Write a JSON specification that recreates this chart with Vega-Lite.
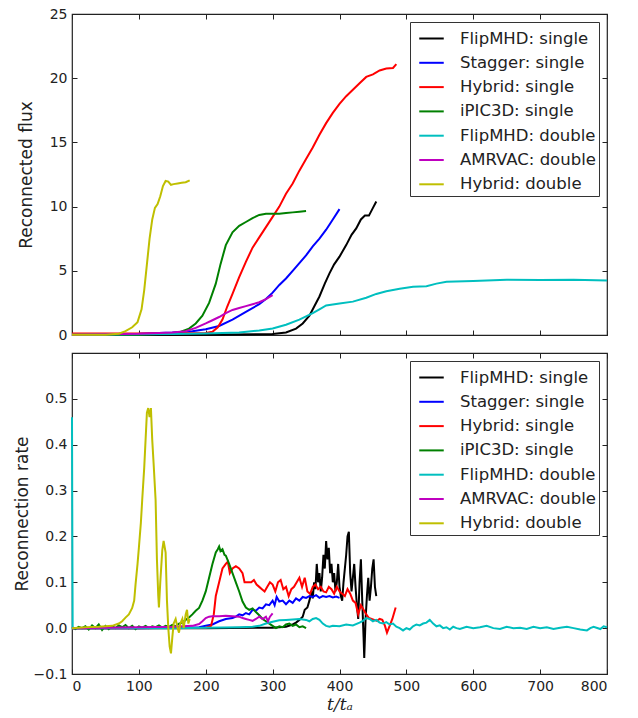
{
  "$schema": "https://vega.github.io/schema/vega-lite/v6.json",
  "background": "white",
  "padding": {"left": 12, "top": 6, "right": 30, "bottom": 0},
  "spacing": 8,
  "config": {
    "view": {"stroke": "#222", "strokeWidth": 1.2},
    "font": "DejaVu Sans",
    "axis": {"grid": false, "domain": false, "labelFont": "DejaVu Sans", "labelFontSize": 14, "labelColor": "#222", "titleFont": "DejaVu Sans", "titleFontSize": 17, "titleFontWeight": "normal", "titleColor": "#222", "tickColor": "#222", "tickSize": -5, "labelPadding": 10},
    "legend": {"orient": "top-right", "offset": 8, "padding": 3, "strokeColor": "#333", "fillColor": "#fff", "labelFont": "DejaVu Sans", "labelFontSize": 16.5, "labelColor": "#222", "symbolType": "stroke", "symbolStrokeWidth": 2, "symbolSize": 600, "symbolOffset": 5, "rowPadding": 2.3, "labelOffset": 15, "cornerRadius": 0}
  },
  "resolve": {"legend": {"color": "independent"}, "scale": {"color": "independent"}},
  "datasets": {
    "flux": [
      {"s":"FlipMHD: single","t":0,"v":0},{"s":"FlipMHD: single","t":100,"v":0},{"s":"FlipMHD: single","t":200,"v":0.02},{"s":"FlipMHD: single","t":300,"v":0.08},{"s":"FlipMHD: single","t":320,"v":0.2},{"s":"FlipMHD: single","t":335,"v":0.5},{"s":"FlipMHD: single","t":345,"v":0.9},{"s":"FlipMHD: single","t":355,"v":1.5},{"s":"FlipMHD: single","t":362,"v":2.2},{"s":"FlipMHD: single","t":370,"v":3},{"s":"FlipMHD: single","t":378,"v":4},{"s":"FlipMHD: single","t":385,"v":4.8},{"s":"FlipMHD: single","t":392,"v":5.5},{"s":"FlipMHD: single","t":400,"v":6.1},{"s":"FlipMHD: single","t":410,"v":7},{"s":"FlipMHD: single","t":418,"v":7.8},{"s":"FlipMHD: single","t":425,"v":8.3},{"s":"FlipMHD: single","t":432,"v":9},{"s":"FlipMHD: single","t":438,"v":9.3},{"s":"FlipMHD: single","t":444,"v":9.3},{"s":"FlipMHD: single","t":450,"v":9.9},{"s":"FlipMHD: single","t":455,"v":10.4},
      {"s":"Stagger: single","t":0,"v":0.05},{"s":"Stagger: single","t":100,"v":0.1},{"s":"Stagger: single","t":150,"v":0.2},{"s":"Stagger: single","t":180,"v":0.3},{"s":"Stagger: single","t":200,"v":0.45},{"s":"Stagger: single","t":220,"v":0.7},{"s":"Stagger: single","t":240,"v":1.2},{"s":"Stagger: single","t":260,"v":1.8},{"s":"Stagger: single","t":280,"v":2.4},{"s":"Stagger: single","t":290,"v":2.8},{"s":"Stagger: single","t":300,"v":3.3},{"s":"Stagger: single","t":310,"v":3.9},{"s":"Stagger: single","t":320,"v":4.4},{"s":"Stagger: single","t":330,"v":5},{"s":"Stagger: single","t":340,"v":5.6},{"s":"Stagger: single","t":350,"v":6.2},{"s":"Stagger: single","t":360,"v":6.9},{"s":"Stagger: single","t":370,"v":7.5},{"s":"Stagger: single","t":380,"v":8.2},{"s":"Stagger: single","t":390,"v":9},{"s":"Stagger: single","t":400,"v":9.8},
      {"s":"Hybrid: single","t":0,"v":0.12},{"s":"Hybrid: single","t":100,"v":0.12},{"s":"Hybrid: single","t":200,"v":0.15},{"s":"Hybrid: single","t":210,"v":0.25},{"s":"Hybrid: single","t":218,"v":0.6},{"s":"Hybrid: single","t":225,"v":1.2},{"s":"Hybrid: single","t":232,"v":2.2},{"s":"Hybrid: single","t":240,"v":3.2},{"s":"Hybrid: single","t":250,"v":4.5},{"s":"Hybrid: single","t":260,"v":5.7},{"s":"Hybrid: single","t":270,"v":6.8},{"s":"Hybrid: single","t":280,"v":7.6},{"s":"Hybrid: single","t":290,"v":8.4},{"s":"Hybrid: single","t":300,"v":9.2},{"s":"Hybrid: single","t":310,"v":10},{"s":"Hybrid: single","t":320,"v":11},{"s":"Hybrid: single","t":330,"v":11.8},{"s":"Hybrid: single","t":340,"v":12.8},{"s":"Hybrid: single","t":350,"v":13.7},{"s":"Hybrid: single","t":360,"v":14.6},{"s":"Hybrid: single","t":370,"v":15.6},{"s":"Hybrid: single","t":380,"v":16.5},{"s":"Hybrid: single","t":390,"v":17.3},{"s":"Hybrid: single","t":400,"v":18},{"s":"Hybrid: single","t":410,"v":18.6},{"s":"Hybrid: single","t":420,"v":19.1},{"s":"Hybrid: single","t":430,"v":19.6},{"s":"Hybrid: single","t":440,"v":20.1},{"s":"Hybrid: single","t":450,"v":20.3},{"s":"Hybrid: single","t":460,"v":20.6},{"s":"Hybrid: single","t":470,"v":20.75},{"s":"Hybrid: single","t":480,"v":20.8},{"s":"Hybrid: single","t":485,"v":21.1},
      {"s":"iPIC3D: single","t":0,"v":0},{"s":"iPIC3D: single","t":100,"v":0.02},{"s":"iPIC3D: single","t":140,"v":0.1},{"s":"iPIC3D: single","t":160,"v":0.2},{"s":"iPIC3D: single","t":175,"v":0.5},{"s":"iPIC3D: single","t":185,"v":0.9},{"s":"iPIC3D: single","t":195,"v":1.5},{"s":"iPIC3D: single","t":205,"v":2.5},{"s":"iPIC3D: single","t":215,"v":4},{"s":"iPIC3D: single","t":222,"v":5.5},{"s":"iPIC3D: single","t":230,"v":7},{"s":"iPIC3D: single","t":240,"v":8},{"s":"iPIC3D: single","t":250,"v":8.5},{"s":"iPIC3D: single","t":260,"v":8.8},{"s":"iPIC3D: single","t":270,"v":9.1},{"s":"iPIC3D: single","t":280,"v":9.35},{"s":"iPIC3D: single","t":290,"v":9.45},{"s":"iPIC3D: single","t":300,"v":9.45},{"s":"iPIC3D: single","t":310,"v":9.45},{"s":"iPIC3D: single","t":320,"v":9.5},{"s":"iPIC3D: single","t":330,"v":9.55},{"s":"iPIC3D: single","t":340,"v":9.6},{"s":"iPIC3D: single","t":350,"v":9.65},
      {"s":"FlipMHD: double","t":0,"v":0.02},{"s":"FlipMHD: double","t":100,"v":0.05},{"s":"FlipMHD: double","t":150,"v":0.08},{"s":"FlipMHD: double","t":200,"v":0.12},{"s":"FlipMHD: double","t":250,"v":0.2},{"s":"FlipMHD: double","t":280,"v":0.35},{"s":"FlipMHD: double","t":300,"v":0.5},{"s":"FlipMHD: double","t":320,"v":0.8},{"s":"FlipMHD: double","t":340,"v":1.2},{"s":"FlipMHD: double","t":360,"v":1.7},{"s":"FlipMHD: double","t":370,"v":2.0},{"s":"FlipMHD: double","t":380,"v":2.3},{"s":"FlipMHD: double","t":400,"v":2.45},{"s":"FlipMHD: double","t":420,"v":2.6},{"s":"FlipMHD: double","t":440,"v":2.9},{"s":"FlipMHD: double","t":455,"v":3.2},{"s":"FlipMHD: double","t":470,"v":3.4},{"s":"FlipMHD: double","t":490,"v":3.6},{"s":"FlipMHD: double","t":510,"v":3.75},{"s":"FlipMHD: double","t":530,"v":3.8},{"s":"FlipMHD: double","t":545,"v":4.0},{"s":"FlipMHD: double","t":560,"v":4.15},{"s":"FlipMHD: double","t":600,"v":4.2},{"s":"FlipMHD: double","t":650,"v":4.3},{"s":"FlipMHD: double","t":700,"v":4.28},{"s":"FlipMHD: double","t":750,"v":4.3},{"s":"FlipMHD: double","t":800,"v":4.25},
      {"s":"AMRVAC: double","t":0,"v":0.02},{"s":"AMRVAC: double","t":100,"v":0.1},{"s":"AMRVAC: double","t":150,"v":0.2},{"s":"AMRVAC: double","t":170,"v":0.3},{"s":"AMRVAC: double","t":185,"v":0.55},{"s":"AMRVAC: double","t":200,"v":0.9},{"s":"AMRVAC: double","t":210,"v":1.15},{"s":"AMRVAC: double","t":220,"v":1.4},{"s":"AMRVAC: double","t":230,"v":1.7},{"s":"AMRVAC: double","t":240,"v":1.95},{"s":"AMRVAC: double","t":250,"v":2.1},{"s":"AMRVAC: double","t":260,"v":2.25},{"s":"AMRVAC: double","t":270,"v":2.4},{"s":"AMRVAC: double","t":280,"v":2.55},{"s":"AMRVAC: double","t":290,"v":2.8},{"s":"AMRVAC: double","t":300,"v":3.1},
      {"s":"Hybrid: double","t":0,"v":0.02},{"s":"Hybrid: double","t":50,"v":0.02},{"s":"Hybrid: double","t":70,"v":0.1},{"s":"Hybrid: double","t":80,"v":0.3},{"s":"Hybrid: double","t":90,"v":0.6},{"s":"Hybrid: double","t":98,"v":1.0},{"s":"Hybrid: double","t":104,"v":2},{"s":"Hybrid: double","t":108,"v":3.5},{"s":"Hybrid: double","t":112,"v":5.5},{"s":"Hybrid: double","t":116,"v":7.5},{"s":"Hybrid: double","t":120,"v":9},{"s":"Hybrid: double","t":124,"v":9.9},{"s":"Hybrid: double","t":128,"v":10.2},{"s":"Hybrid: double","t":132,"v":10.8},{"s":"Hybrid: double","t":136,"v":11.6},{"s":"Hybrid: double","t":140,"v":12.0},{"s":"Hybrid: double","t":144,"v":11.95},{"s":"Hybrid: double","t":148,"v":11.7},{"s":"Hybrid: double","t":152,"v":11.75},{"s":"Hybrid: double","t":158,"v":11.8},{"s":"Hybrid: double","t":164,"v":11.85},{"s":"Hybrid: double","t":170,"v":11.9},{"s":"Hybrid: double","t":176,"v":12.05}
    ],
    "rate": [
      {"s":"FlipMHD: single","t":0,"v":0},{"s":"FlipMHD: single","t":100,"v":0},{"s":"FlipMHD: single","t":200,"v":0},{"s":"FlipMHD: single","t":300,"v":0.001},{"s":"FlipMHD: single","t":320,"v":0.003},{"s":"FlipMHD: single","t":330,"v":0.008},{"s":"FlipMHD: single","t":335,"v":0.012},{"s":"FlipMHD: single","t":340,"v":0.018},{"s":"FlipMHD: single","t":345,"v":0.025},{"s":"FlipMHD: single","t":348,"v":0.04},{"s":"FlipMHD: single","t":352,"v":0.045},{"s":"FlipMHD: single","t":355,"v":0.06},{"s":"FlipMHD: single","t":358,"v":0.08},{"s":"FlipMHD: single","t":360,"v":0.065},{"s":"FlipMHD: single","t":362,"v":0.1},{"s":"FlipMHD: single","t":364,"v":0.085},{"s":"FlipMHD: single","t":366,"v":0.14},{"s":"FlipMHD: single","t":368,"v":0.1},{"s":"FlipMHD: single","t":370,"v":0.12},{"s":"FlipMHD: single","t":372,"v":0.08},{"s":"FlipMHD: single","t":374,"v":0.11},{"s":"FlipMHD: single","t":376,"v":0.16},{"s":"FlipMHD: single","t":378,"v":0.13},{"s":"FlipMHD: single","t":380,"v":0.19},{"s":"FlipMHD: single","t":382,"v":0.15},{"s":"FlipMHD: single","t":384,"v":0.175},{"s":"FlipMHD: single","t":386,"v":0.12},{"s":"FlipMHD: single","t":388,"v":0.14},{"s":"FlipMHD: single","t":390,"v":0.1},{"s":"FlipMHD: single","t":392,"v":0.12},{"s":"FlipMHD: single","t":394,"v":0.08},{"s":"FlipMHD: single","t":396,"v":0.1},{"s":"FlipMHD: single","t":398,"v":0.14},{"s":"FlipMHD: single","t":400,"v":0.09},{"s":"FlipMHD: single","t":402,"v":0.07},{"s":"FlipMHD: single","t":404,"v":0.06},{"s":"FlipMHD: single","t":406,"v":0.1},{"s":"FlipMHD: single","t":408,"v":0.13},{"s":"FlipMHD: single","t":410,"v":0.16},{"s":"FlipMHD: single","t":412,"v":0.2},{"s":"FlipMHD: single","t":414,"v":0.21},{"s":"FlipMHD: single","t":416,"v":0.12},{"s":"FlipMHD: single","t":418,"v":0.08},{"s":"FlipMHD: single","t":420,"v":0.11},{"s":"FlipMHD: single","t":422,"v":0.14},{"s":"FlipMHD: single","t":424,"v":0.09},{"s":"FlipMHD: single","t":426,"v":0.05},{"s":"FlipMHD: single","t":428,"v":0.02},{"s":"FlipMHD: single","t":430,"v":0.1},{"s":"FlipMHD: single","t":432,"v":0.15},{"s":"FlipMHD: single","t":434,"v":0.06},{"s":"FlipMHD: single","t":436,"v":-0.02},{"s":"FlipMHD: single","t":437,"v":-0.065},{"s":"FlipMHD: single","t":439,"v":0.02},{"s":"FlipMHD: single","t":441,"v":0.07},{"s":"FlipMHD: single","t":443,"v":0.11},{"s":"FlipMHD: single","t":445,"v":0.06},{"s":"FlipMHD: single","t":447,"v":0.09},{"s":"FlipMHD: single","t":449,"v":0.13},{"s":"FlipMHD: single","t":451,"v":0.15},{"s":"FlipMHD: single","t":453,"v":0.09},{"s":"FlipMHD: single","t":455,"v":0.07},
      {"s":"Stagger: single","t":0,"v":0},{"s":"Stagger: single","t":100,"v":0},{"s":"Stagger: single","t":190,"v":0.002},{"s":"Stagger: single","t":200,"v":0.005},{"s":"Stagger: single","t":210,"v":0.008},{"s":"Stagger: single","t":220,"v":0.015},{"s":"Stagger: single","t":230,"v":0.02},{"s":"Stagger: single","t":240,"v":0.022},{"s":"Stagger: single","t":245,"v":0.025},{"s":"Stagger: single","t":250,"v":0.03},{"s":"Stagger: single","t":255,"v":0.028},{"s":"Stagger: single","t":260,"v":0.033},{"s":"Stagger: single","t":265,"v":0.03},{"s":"Stagger: single","t":270,"v":0.04},{"s":"Stagger: single","t":275,"v":0.038},{"s":"Stagger: single","t":280,"v":0.045},{"s":"Stagger: single","t":285,"v":0.043},{"s":"Stagger: single","t":290,"v":0.052},{"s":"Stagger: single","t":295,"v":0.05},{"s":"Stagger: single","t":300,"v":0.06},{"s":"Stagger: single","t":303,"v":0.05},{"s":"Stagger: single","t":306,"v":0.068},{"s":"Stagger: single","t":310,"v":0.058},{"s":"Stagger: single","t":315,"v":0.06},{"s":"Stagger: single","t":320,"v":0.052},{"s":"Stagger: single","t":325,"v":0.06},{"s":"Stagger: single","t":330,"v":0.055},{"s":"Stagger: single","t":335,"v":0.065},{"s":"Stagger: single","t":340,"v":0.06},{"s":"Stagger: single","t":345,"v":0.068},{"s":"Stagger: single","t":350,"v":0.066},{"s":"Stagger: single","t":355,"v":0.07},{"s":"Stagger: single","t":360,"v":0.068},{"s":"Stagger: single","t":365,"v":0.072},{"s":"Stagger: single","t":370,"v":0.066},{"s":"Stagger: single","t":375,"v":0.07},{"s":"Stagger: single","t":380,"v":0.068},{"s":"Stagger: single","t":385,"v":0.07},{"s":"Stagger: single","t":390,"v":0.067},{"s":"Stagger: single","t":395,"v":0.069},{"s":"Stagger: single","t":400,"v":0.066},
      {"s":"Hybrid: single","t":0,"v":0},{"s":"Hybrid: single","t":100,"v":0},{"s":"Hybrid: single","t":200,"v":0.001},{"s":"Hybrid: single","t":208,"v":0.005},{"s":"Hybrid: single","t":212,"v":0.03},{"s":"Hybrid: single","t":215,"v":0.07},{"s":"Hybrid: single","t":220,"v":0.1},{"s":"Hybrid: single","t":225,"v":0.13},{"s":"Hybrid: single","t":230,"v":0.14},{"s":"Hybrid: single","t":233,"v":0.145},{"s":"Hybrid: single","t":236,"v":0.12},{"s":"Hybrid: single","t":240,"v":0.13},{"s":"Hybrid: single","t":245,"v":0.135},{"s":"Hybrid: single","t":250,"v":0.13},{"s":"Hybrid: single","t":255,"v":0.12},{"s":"Hybrid: single","t":258,"v":0.1},{"s":"Hybrid: single","t":262,"v":0.1},{"s":"Hybrid: single","t":268,"v":0.1},{"s":"Hybrid: single","t":272,"v":0.105},{"s":"Hybrid: single","t":276,"v":0.095},{"s":"Hybrid: single","t":280,"v":0.09},{"s":"Hybrid: single","t":284,"v":0.085},{"s":"Hybrid: single","t":288,"v":0.08},{"s":"Hybrid: single","t":292,"v":0.09},{"s":"Hybrid: single","t":296,"v":0.1},{"s":"Hybrid: single","t":300,"v":0.095},{"s":"Hybrid: single","t":304,"v":0.08},{"s":"Hybrid: single","t":308,"v":0.1},{"s":"Hybrid: single","t":312,"v":0.105},{"s":"Hybrid: single","t":316,"v":0.085},{"s":"Hybrid: single","t":320,"v":0.09},{"s":"Hybrid: single","t":324,"v":0.07},{"s":"Hybrid: single","t":328,"v":0.085},{"s":"Hybrid: single","t":332,"v":0.09},{"s":"Hybrid: single","t":336,"v":0.1},{"s":"Hybrid: single","t":340,"v":0.11},{"s":"Hybrid: single","t":344,"v":0.09},{"s":"Hybrid: single","t":348,"v":0.11},{"s":"Hybrid: single","t":352,"v":0.08},{"s":"Hybrid: single","t":356,"v":0.075},{"s":"Hybrid: single","t":360,"v":0.09},{"s":"Hybrid: single","t":364,"v":0.095},{"s":"Hybrid: single","t":368,"v":0.085},{"s":"Hybrid: single","t":372,"v":0.09},{"s":"Hybrid: single","t":376,"v":0.08},{"s":"Hybrid: single","t":380,"v":0.078},{"s":"Hybrid: single","t":384,"v":0.09},{"s":"Hybrid: single","t":388,"v":0.085},{"s":"Hybrid: single","t":392,"v":0.075},{"s":"Hybrid: single","t":396,"v":0.09},{"s":"Hybrid: single","t":400,"v":0.08},{"s":"Hybrid: single","t":404,"v":0.075},{"s":"Hybrid: single","t":408,"v":0.07},{"s":"Hybrid: single","t":412,"v":0.085},{"s":"Hybrid: single","t":416,"v":0.075},{"s":"Hybrid: single","t":420,"v":0.06},{"s":"Hybrid: single","t":424,"v":0.055},{"s":"Hybrid: single","t":428,"v":0.03},{"s":"Hybrid: single","t":432,"v":0.05},{"s":"Hybrid: single","t":436,"v":0.04},{"s":"Hybrid: single","t":440,"v":0.03},{"s":"Hybrid: single","t":444,"v":0.022},{"s":"Hybrid: single","t":448,"v":0.02},{"s":"Hybrid: single","t":452,"v":0.018},{"s":"Hybrid: single","t":456,"v":0.016},{"s":"Hybrid: single","t":460,"v":0.02},{"s":"Hybrid: single","t":464,"v":0.018},{"s":"Hybrid: single","t":468,"v":0.005},{"s":"Hybrid: single","t":471,"v":-0.01},{"s":"Hybrid: single","t":475,"v":0.005},{"s":"Hybrid: single","t":479,"v":0.02},{"s":"Hybrid: single","t":484,"v":0.045},
      {"s":"iPIC3D: single","t":0,"v":0.002},{"s":"iPIC3D: single","t":5,"v":-0.002},{"s":"iPIC3D: single","t":10,"v":0.003},{"s":"iPIC3D: single","t":15,"v":0},{"s":"iPIC3D: single","t":20,"v":0.004},{"s":"iPIC3D: single","t":25,"v":-0.003},{"s":"iPIC3D: single","t":30,"v":0.006},{"s":"iPIC3D: single","t":35,"v":0},{"s":"iPIC3D: single","t":40,"v":0.008},{"s":"iPIC3D: single","t":45,"v":-0.004},{"s":"iPIC3D: single","t":50,"v":0.005},{"s":"iPIC3D: single","t":55,"v":-0.002},{"s":"iPIC3D: single","t":60,"v":0.004},{"s":"iPIC3D: single","t":65,"v":0},{"s":"iPIC3D: single","t":70,"v":0.006},{"s":"iPIC3D: single","t":75,"v":0.002},{"s":"iPIC3D: single","t":80,"v":0.007},{"s":"iPIC3D: single","t":85,"v":0},{"s":"iPIC3D: single","t":90,"v":0.005},{"s":"iPIC3D: single","t":95,"v":-0.002},{"s":"iPIC3D: single","t":100,"v":0.004},{"s":"iPIC3D: single","t":105,"v":0.001},{"s":"iPIC3D: single","t":110,"v":0.005},{"s":"iPIC3D: single","t":115,"v":0},{"s":"iPIC3D: single","t":120,"v":0.004},{"s":"iPIC3D: single","t":125,"v":0.002},{"s":"iPIC3D: single","t":130,"v":0.006},{"s":"iPIC3D: single","t":135,"v":0.001},{"s":"iPIC3D: single","t":140,"v":0.005},{"s":"iPIC3D: single","t":145,"v":0.003},{"s":"iPIC3D: single","t":150,"v":0.007},{"s":"iPIC3D: single","t":155,"v":0.004},{"s":"iPIC3D: single","t":160,"v":0.01},{"s":"iPIC3D: single","t":165,"v":0.012},{"s":"iPIC3D: single","t":170,"v":0.018},{"s":"iPIC3D: single","t":175,"v":0.023},{"s":"iPIC3D: single","t":180,"v":0.03},{"s":"iPIC3D: single","t":185,"v":0.038},{"s":"iPIC3D: single","t":190,"v":0.044},{"s":"iPIC3D: single","t":195,"v":0.06},{"s":"iPIC3D: single","t":200,"v":0.08},{"s":"iPIC3D: single","t":205,"v":0.11},{"s":"iPIC3D: single","t":210,"v":0.14},{"s":"iPIC3D: single","t":215,"v":0.165},{"s":"iPIC3D: single","t":218,"v":0.172},{"s":"iPIC3D: single","t":220,"v":0.178},{"s":"iPIC3D: single","t":222,"v":0.168},{"s":"iPIC3D: single","t":225,"v":0.172},{"s":"iPIC3D: single","t":228,"v":0.16},{"s":"iPIC3D: single","t":230,"v":0.158},{"s":"iPIC3D: single","t":235,"v":0.14},{"s":"iPIC3D: single","t":240,"v":0.12},{"s":"iPIC3D: single","t":245,"v":0.1},{"s":"iPIC3D: single","t":250,"v":0.08},{"s":"iPIC3D: single","t":255,"v":0.058},{"s":"iPIC3D: single","t":260,"v":0.045},{"s":"iPIC3D: single","t":265,"v":0.04},{"s":"iPIC3D: single","t":270,"v":0.043},{"s":"iPIC3D: single","t":275,"v":0.035},{"s":"iPIC3D: single","t":280,"v":0.028},{"s":"iPIC3D: single","t":285,"v":0.02},{"s":"iPIC3D: single","t":290,"v":0.015},{"s":"iPIC3D: single","t":295,"v":0.01},{"s":"iPIC3D: single","t":300,"v":0.005},{"s":"iPIC3D: single","t":305,"v":0},{"s":"iPIC3D: single","t":310,"v":0.004},{"s":"iPIC3D: single","t":315,"v":0.002},{"s":"iPIC3D: single","t":320,"v":0.008},{"s":"iPIC3D: single","t":325,"v":0.01},{"s":"iPIC3D: single","t":330,"v":0.005},{"s":"iPIC3D: single","t":335,"v":0.008},{"s":"iPIC3D: single","t":340,"v":0.002},{"s":"iPIC3D: single","t":345,"v":0.004},{"s":"iPIC3D: single","t":350,"v":0},
      {"s":"FlipMHD: double","t":0,"v":0.46},{"s":"FlipMHD: double","t":0.5,"v":0.2},{"s":"FlipMHD: double","t":1,"v":0},{"s":"FlipMHD: double","t":50,"v":0},{"s":"FlipMHD: double","t":100,"v":0},{"s":"FlipMHD: double","t":150,"v":0},{"s":"FlipMHD: double","t":200,"v":0.001},{"s":"FlipMHD: double","t":250,"v":0.002},{"s":"FlipMHD: double","t":270,"v":0.003},{"s":"FlipMHD: double","t":280,"v":0.005},{"s":"FlipMHD: double","t":290,"v":0.01},{"s":"FlipMHD: double","t":300,"v":0.014},{"s":"FlipMHD: double","t":310,"v":0.017},{"s":"FlipMHD: double","t":320,"v":0.018},{"s":"FlipMHD: double","t":330,"v":0.019},{"s":"FlipMHD: double","t":340,"v":0.02},{"s":"FlipMHD: double","t":350,"v":0.018},{"s":"FlipMHD: double","t":355,"v":0.015},{"s":"FlipMHD: double","t":360,"v":0.02},{"s":"FlipMHD: double","t":365,"v":0.022},{"s":"FlipMHD: double","t":370,"v":0.018},{"s":"FlipMHD: double","t":375,"v":0.01},{"s":"FlipMHD: double","t":380,"v":0.005},{"s":"FlipMHD: double","t":385,"v":0.003},{"s":"FlipMHD: double","t":390,"v":0.005},{"s":"FlipMHD: double","t":400,"v":0.004},{"s":"FlipMHD: double","t":410,"v":0.008},{"s":"FlipMHD: double","t":420,"v":0.006},{"s":"FlipMHD: double","t":430,"v":0.012},{"s":"FlipMHD: double","t":435,"v":0.016},{"s":"FlipMHD: double","t":440,"v":0.022},{"s":"FlipMHD: double","t":445,"v":0.02},{"s":"FlipMHD: double","t":450,"v":0.015},{"s":"FlipMHD: double","t":455,"v":0.018},{"s":"FlipMHD: double","t":460,"v":0.012},{"s":"FlipMHD: double","t":465,"v":0.01},{"s":"FlipMHD: double","t":470,"v":0.013},{"s":"FlipMHD: double","t":475,"v":0.008},{"s":"FlipMHD: double","t":480,"v":0.01},{"s":"FlipMHD: double","t":485,"v":0.003},{"s":"FlipMHD: double","t":490,"v":0},{"s":"FlipMHD: double","t":495,"v":-0.005},{"s":"FlipMHD: double","t":500,"v":0},{"s":"FlipMHD: double","t":505,"v":-0.003},{"s":"FlipMHD: double","t":510,"v":0.004},{"s":"FlipMHD: double","t":515,"v":0.008},{"s":"FlipMHD: double","t":520,"v":0.006},{"s":"FlipMHD: double","t":525,"v":0.01},{"s":"FlipMHD: double","t":530,"v":0.012},{"s":"FlipMHD: double","t":535,"v":0.018},{"s":"FlipMHD: double","t":540,"v":0.01},{"s":"FlipMHD: double","t":545,"v":0.004},{"s":"FlipMHD: double","t":550,"v":0.006},{"s":"FlipMHD: double","t":555,"v":0},{"s":"FlipMHD: double","t":560,"v":0.002},{"s":"FlipMHD: double","t":565,"v":-0.003},{"s":"FlipMHD: double","t":570,"v":0.003},{"s":"FlipMHD: double","t":575,"v":0},{"s":"FlipMHD: double","t":580,"v":-0.002},{"s":"FlipMHD: double","t":590,"v":0.003},{"s":"FlipMHD: double","t":600,"v":0},{"s":"FlipMHD: double","t":610,"v":0.002},{"s":"FlipMHD: double","t":620,"v":0.005},{"s":"FlipMHD: double","t":630,"v":0},{"s":"FlipMHD: double","t":640,"v":-0.002},{"s":"FlipMHD: double","t":650,"v":0.003},{"s":"FlipMHD: double","t":660,"v":0},{"s":"FlipMHD: double","t":670,"v":0.001},{"s":"FlipMHD: double","t":680,"v":-0.002},{"s":"FlipMHD: double","t":690,"v":0.003},{"s":"FlipMHD: double","t":700,"v":0},{"s":"FlipMHD: double","t":710,"v":0.002},{"s":"FlipMHD: double","t":720,"v":-0.002},{"s":"FlipMHD: double","t":730,"v":0.001},{"s":"FlipMHD: double","t":740,"v":0.003},{"s":"FlipMHD: double","t":750,"v":0},{"s":"FlipMHD: double","t":760,"v":-0.003},{"s":"FlipMHD: double","t":770,"v":-0.005},{"s":"FlipMHD: double","t":775,"v":0},{"s":"FlipMHD: double","t":780,"v":0.003},{"s":"FlipMHD: double","t":790,"v":-0.002},{"s":"FlipMHD: double","t":795,"v":0.004},{"s":"FlipMHD: double","t":800,"v":0.002},
      {"s":"AMRVAC: double","t":0,"v":0},{"s":"AMRVAC: double","t":50,"v":0.001},{"s":"AMRVAC: double","t":100,"v":0.002},{"s":"AMRVAC: double","t":150,"v":0.003},{"s":"AMRVAC: double","t":180,"v":0.005},{"s":"AMRVAC: double","t":190,"v":0.009},{"s":"AMRVAC: double","t":195,"v":0.015},{"s":"AMRVAC: double","t":200,"v":0.022},{"s":"AMRVAC: double","t":205,"v":0.025},{"s":"AMRVAC: double","t":210,"v":0.026},{"s":"AMRVAC: double","t":220,"v":0.026},{"s":"AMRVAC: double","t":230,"v":0.027},{"s":"AMRVAC: double","t":240,"v":0.026},{"s":"AMRVAC: double","t":250,"v":0.025},{"s":"AMRVAC: double","t":255,"v":0.022},{"s":"AMRVAC: double","t":260,"v":0.02},{"s":"AMRVAC: double","t":265,"v":0.018},{"s":"AMRVAC: double","t":270,"v":0.016},{"s":"AMRVAC: double","t":275,"v":0.02},{"s":"AMRVAC: double","t":280,"v":0.025},{"s":"AMRVAC: double","t":285,"v":0.02},{"s":"AMRVAC: double","t":290,"v":0.025},{"s":"AMRVAC: double","t":293,"v":0.015},{"s":"AMRVAC: double","t":296,"v":0.025},{"s":"AMRVAC: double","t":300,"v":0.032},
      {"s":"Hybrid: double","t":0,"v":0},{"s":"Hybrid: double","t":20,"v":0.002},{"s":"Hybrid: double","t":40,"v":0.003},{"s":"Hybrid: double","t":60,"v":0.005},{"s":"Hybrid: double","t":70,"v":0.01},{"s":"Hybrid: double","t":75,"v":0.015},{"s":"Hybrid: double","t":80,"v":0.023},{"s":"Hybrid: double","t":85,"v":0.03},{"s":"Hybrid: double","t":90,"v":0.044},{"s":"Hybrid: double","t":93,"v":0.06},{"s":"Hybrid: double","t":95,"v":0.095},{"s":"Hybrid: double","t":98,"v":0.14},{"s":"Hybrid: double","t":100,"v":0.175},{"s":"Hybrid: double","t":103,"v":0.23},{"s":"Hybrid: double","t":105,"v":0.28},{"s":"Hybrid: double","t":108,"v":0.35},{"s":"Hybrid: double","t":110,"v":0.41},{"s":"Hybrid: double","t":112,"v":0.47},{"s":"Hybrid: double","t":114,"v":0.48},{"s":"Hybrid: double","t":116,"v":0.46},{"s":"Hybrid: double","t":118,"v":0.48},{"s":"Hybrid: double","t":120,"v":0.41},{"s":"Hybrid: double","t":122,"v":0.36},{"s":"Hybrid: double","t":125,"v":0.28},{"s":"Hybrid: double","t":127,"v":0.15},{"s":"Hybrid: double","t":129,"v":0.07},{"s":"Hybrid: double","t":130,"v":0.045},{"s":"Hybrid: double","t":132,"v":0.1},{"s":"Hybrid: double","t":135,"v":0.17},{"s":"Hybrid: double","t":137,"v":0.19},{"s":"Hybrid: double","t":140,"v":0.165},{"s":"Hybrid: double","t":142,"v":0.06},{"s":"Hybrid: double","t":144,"v":0},{"s":"Hybrid: double","t":146,"v":-0.04},{"s":"Hybrid: double","t":148,"v":-0.055},{"s":"Hybrid: double","t":150,"v":-0.02},{"s":"Hybrid: double","t":152,"v":0.01},{"s":"Hybrid: double","t":155,"v":0.02},{"s":"Hybrid: double","t":158,"v":0},{"s":"Hybrid: double","t":160,"v":-0.01},{"s":"Hybrid: double","t":162,"v":0.01},{"s":"Hybrid: double","t":165,"v":0.02},{"s":"Hybrid: double","t":167,"v":0},{"s":"Hybrid: double","t":170,"v":0.03},{"s":"Hybrid: double","t":172,"v":0.04},{"s":"Hybrid: double","t":174,"v":0.01},{"s":"Hybrid: double","t":176,"v":0.02}
    ]
  },
  "vconcat": [
    {
      "width": 535, "height": 321,
      "data": {"name": "flux"},
      "layer": [
        {
          "mark": {"type": "line", "strokeWidth": 2},
          "encoding": {
            "x": {"field": "t", "type": "quantitative", "scale": {"domain": [0, 800], "nice": false}, "axis": {"labels": false, "title": null, "values": [0,100,200,300,400,500,600,700,800]}},
            "y": {"field": "v", "type": "quantitative", "scale": {"domain": [0, 25], "nice": false}, "axis": {"title": "Reconnected flux", "values": [0,5,10,15,20,25], "titlePadding": 14}},
            "color": {"field": "s", "type": "nominal", "title": null,
              "scale": {"domain": ["FlipMHD: single","Stagger: single","Hybrid: single","iPIC3D: single","FlipMHD: double","AMRVAC: double","Hybrid: double"], "range": ["#000000","#0000ff","#ff0000","#008000","#00bfbf","#bf00bf","#bfbf00"]}}
          }
        },
        {
          "mark": {"type": "line", "strokeOpacity": 0},
          "encoding": {
            "x": {"field": "t", "type": "quantitative", "axis": {"orient": "top", "labels": false, "title": null, "values": [0,100,200,300,400,500,600,700,800]}},
            "y": {"field": "v", "type": "quantitative", "axis": {"orient": "right", "labels": false, "title": null, "values": [0,5,10,15,20,25]}},
            "detail": {"field": "s"}
          }
        }
      ],
      "resolve": {"axis": {"x": "independent", "y": "independent"}}
    },
    {
      "width": 535, "height": 321,
      "data": {"name": "rate"},
      "layer": [
        {
          "mark": {"type": "line", "strokeWidth": 2},
          "encoding": {
            "x": {"field": "t", "type": "quantitative", "scale": {"domain": [0, 800], "nice": false}, "axis": {"title": "t/tₐ", "titleFont": "DejaVu Serif", "titleFontStyle": "italic", "titleFontSize": 17, "titlePadding": 3, "values": [0,100,200,300,400,500,600,700,800]}},
            "y": {"field": "v", "type": "quantitative", "scale": {"domain": [-0.1, 0.6], "nice": false}, "axis": {"title": "Reconnection rate", "values": [-0.1,0,0.1,0.2,0.3,0.4,0.5], "format": ".1f", "labelExpr": "replace(datum.label, '-', '−')", "titlePadding": 2}},
            "color": {"field": "s", "type": "nominal", "title": null,
              "scale": {"domain": ["FlipMHD: single","Stagger: single","Hybrid: single","iPIC3D: single","FlipMHD: double","AMRVAC: double","Hybrid: double"], "range": ["#000000","#0000ff","#ff0000","#008000","#00bfbf","#bf00bf","#bfbf00"]}}
          }
        },
        {
          "mark": {"type": "line", "strokeOpacity": 0},
          "encoding": {
            "x": {"field": "t", "type": "quantitative", "axis": {"orient": "top", "labels": false, "title": null, "values": [0,100,200,300,400,500,600,700,800]}},
            "y": {"field": "v", "type": "quantitative", "axis": {"orient": "right", "labels": false, "title": null, "values": [-0.1,0,0.1,0.2,0.3,0.4,0.5]}},
            "detail": {"field": "s"}
          }
        }
      ],
      "resolve": {"axis": {"x": "independent", "y": "independent"}}
    }
  ]
}
